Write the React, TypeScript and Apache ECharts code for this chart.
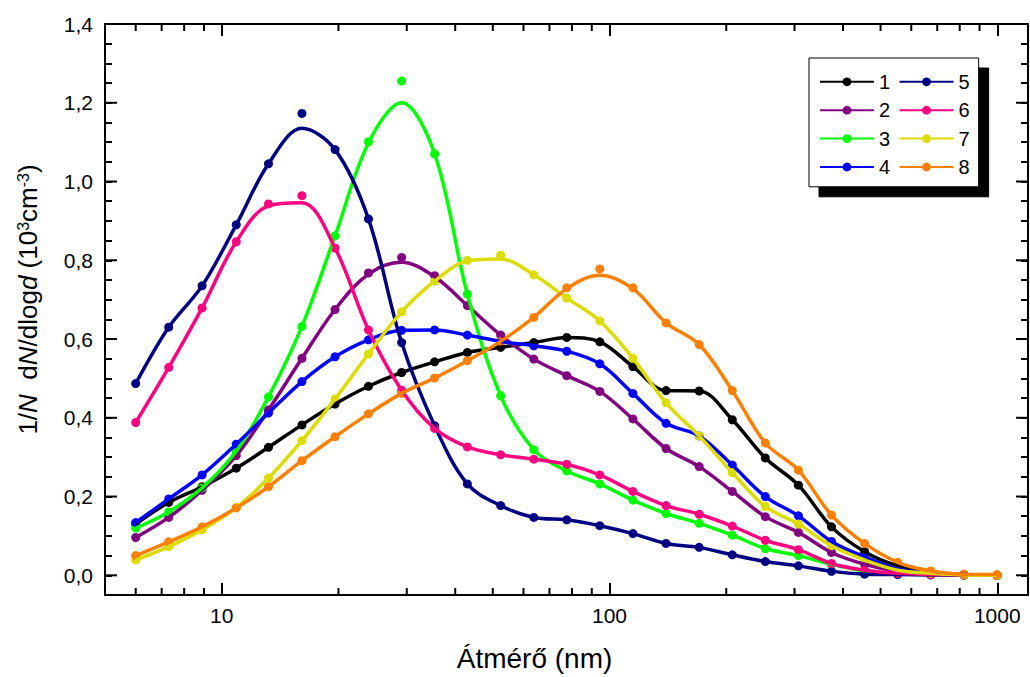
import React, { useEffect, useRef } from 'react';
import * as echarts from 'echarts';

// Particle diameters (nm) of the size channels
const diameters = [6.0, 7.3, 8.9, 10.9, 13.2, 16.1, 19.6, 23.9, 29.1, 35.4, 43.0, 52.4, 63.8, 77.6, 94.4, 114.9, 139.9, 170.3, 207.3, 252.2, 307.0, 373.6, 454.9, 553.5, 673.6, 820.1, 998];

const seriesNames = ['1', '2', '3', '4', '5', '6', '7', '8'];
const seriesColors = ['#000000', '#800080', '#00ff00', '#0000ff', '#000080', '#ff0080', '#dcdc00', '#ff8000'];

// measured points
const points1 = [0.130, 0.185, 0.225, 0.272, 0.325, 0.382, 0.435, 0.480, 0.515, 0.542, 0.566, 0.579, 0.591, 0.604, 0.593, 0.530, 0.469, 0.468, 0.395, 0.298, 0.229, 0.123, 0.060, 0.024, 0.007, 0.002, 0.000];
const points2 = [0.096, 0.147, 0.216, 0.304, 0.420, 0.551, 0.675, 0.768, 0.807, 0.761, 0.685, 0.610, 0.549, 0.507, 0.467, 0.397, 0.322, 0.276, 0.213, 0.149, 0.109, 0.058, 0.028, 0.010, 0.004, 0.001, 0.000];
const points3 = [0.120, 0.161, 0.222, 0.315, 0.453, 0.632, 0.862, 1.101, 1.255, 1.070, 0.714, 0.456, 0.319, 0.265, 0.232, 0.191, 0.157, 0.132, 0.102, 0.068, 0.050, 0.028, 0.011, 0.004, 0.002, 0.001, 0.000];
const points4 = [0.134, 0.194, 0.255, 0.333, 0.412, 0.492, 0.555, 0.598, 0.622, 0.623, 0.610, 0.594, 0.583, 0.569, 0.537, 0.462, 0.386, 0.354, 0.280, 0.200, 0.151, 0.086, 0.047, 0.016, 0.006, 0.002, 0.000];
const points5 = [0.487, 0.630, 0.735, 0.890, 1.045, 1.173, 1.081, 0.905, 0.591, 0.380, 0.232, 0.177, 0.147, 0.141, 0.126, 0.106, 0.081, 0.071, 0.052, 0.035, 0.024, 0.010, 0.003, 0.002, 0.001, 0.000, 0.000];
const points6 = [0.388, 0.528, 0.679, 0.847, 0.943, 0.964, 0.831, 0.623, 0.470, 0.373, 0.326, 0.306, 0.295, 0.282, 0.255, 0.213, 0.177, 0.155, 0.125, 0.089, 0.065, 0.030, 0.013, 0.005, 0.002, 0.001, 0.000];
const points7 = [0.039, 0.073, 0.116, 0.172, 0.247, 0.342, 0.448, 0.562, 0.669, 0.747, 0.800, 0.813, 0.763, 0.704, 0.646, 0.551, 0.438, 0.354, 0.261, 0.175, 0.130, 0.075, 0.039, 0.013, 0.005, 0.001, 0.000];
const points8 = [0.050, 0.085, 0.123, 0.171, 0.225, 0.291, 0.352, 0.410, 0.462, 0.501, 0.545, 0.594, 0.655, 0.730, 0.778, 0.730, 0.641, 0.586, 0.469, 0.336, 0.267, 0.153, 0.081, 0.033, 0.011, 0.003, 0.002];

// fitted curves
const curve1 = points1;
const curve2 = [0.096, 0.147, 0.216, 0.304, 0.420, 0.551, 0.675, 0.765, 0.795, 0.758, 0.685, 0.610, 0.549, 0.507, 0.467, 0.397, 0.322, 0.276, 0.213, 0.149, 0.109, 0.058, 0.028, 0.010, 0.004, 0.001, 0.000];
const curve3 = [0.120, 0.161, 0.222, 0.315, 0.453, 0.632, 0.862, 1.098, 1.200, 1.070, 0.714, 0.456, 0.319, 0.265, 0.232, 0.191, 0.157, 0.132, 0.102, 0.068, 0.050, 0.028, 0.011, 0.004, 0.002, 0.001, 0.000];
const curve4 = points4;
const curve5 = [0.487, 0.630, 0.735, 0.890, 1.045, 1.135, 1.081, 0.905, 0.591, 0.380, 0.232, 0.177, 0.147, 0.141, 0.126, 0.106, 0.081, 0.071, 0.052, 0.035, 0.024, 0.010, 0.003, 0.002, 0.001, 0.000, 0.000];
const curve6 = [0.388, 0.528, 0.679, 0.847, 0.938, 0.946, 0.831, 0.623, 0.470, 0.373, 0.326, 0.306, 0.295, 0.282, 0.255, 0.213, 0.177, 0.155, 0.125, 0.089, 0.065, 0.030, 0.013, 0.005, 0.002, 0.001, 0.000];
const curve7 = [0.039, 0.073, 0.116, 0.172, 0.247, 0.342, 0.448, 0.562, 0.669, 0.747, 0.798, 0.803, 0.763, 0.704, 0.646, 0.551, 0.438, 0.354, 0.261, 0.175, 0.130, 0.075, 0.039, 0.013, 0.005, 0.001, 0.000];
const curve8 = [0.050, 0.085, 0.123, 0.171, 0.225, 0.291, 0.352, 0.410, 0.462, 0.501, 0.545, 0.594, 0.655, 0.728, 0.762, 0.728, 0.641, 0.586, 0.469, 0.336, 0.267, 0.153, 0.081, 0.033, 0.011, 0.003, 0.002];

const allPoints = [points1, points2, points3, points4, points5, points6, points7, points8];
const allCurves = [curve1, curve2, curve3, curve4, curve5, curve6, curve7, curve8];

// ticks
const xMajorTicks = [10, 100, 1000];
const xMinorTicks = [6, 7, 8, 9, 20, 30, 40, 50, 60, 70, 80, 90, 200, 300, 400, 500, 600, 700, 800, 900];
const yMajorTicks = [0, 0.2, 0.4, 0.6, 0.8, 1.0, 1.2, 1.4];

const X_MIN = 5;
const X_MAX = 1200;
const Y_MIN = -0.05;
const Y_MAX = 1.4;
const Y_MINOR_STEP = 0.05;

const FONT = 'Arial, "Liberation Sans", sans-serif';

export default function App() {
  const ref = useRef<HTMLDivElement>(null);

  useEffect(() => {
    if (!ref.current) return;
    const chart = echarts.init(ref.current, undefined, { renderer: 'svg' });

    const axisLineStyle = { color: '#000', width: 2 };

    const isMajorY = (v: number) => v >= -1e-9 && Math.abs(v * 5 - Math.round(v * 5)) < 1e-6;
    const isMajorX = (v: number) => xMajorTicks.some((t) => Math.abs(t - v) < 1e-6 * t);

    const makeX = (position: 'top' | 'bottom', withLabel: boolean): any => ({
      type: 'log',
      logBase: 10,
      min: X_MIN,
      max: X_MAX,
      position,
      axisLine: { show: true, onZero: false, lineStyle: axisLineStyle },
      axisTick: { show: true, inside: true, length: 12, lineStyle: axisLineStyle },
      axisLabel: withLabel
        ? {
            show: true,
            formatter: (v: number) => (isMajorX(v) ? String(Math.round(v)) : ''),
            fontSize: 21,
            color: '#000',
            fontFamily: FONT,
            margin: 10,
          }
        : { show: false },
      splitLine: { show: false },
      minorTick: { show: false },
    });

    const makeY = (position: 'left' | 'right', withLabel: boolean): any => ({
      type: 'value',
      min: Y_MIN,
      max: Y_MAX,
      interval: Y_MINOR_STEP,
      position,
      axisLine: { show: true, onZero: false, lineStyle: axisLineStyle },
      axisTick: { show: true, inside: true, length: 7, lineStyle: axisLineStyle },
      axisLabel: withLabel
        ? {
            show: true,
            formatter: (v: number) => (isMajorY(v) ? v.toFixed(1).replace('.', ',') : ''),
            fontSize: 21,
            color: '#000',
            fontFamily: FONT,
            margin: 12,
          }
        : { show: false },
      splitLine: { show: false },
      minorTick: { show: false },
    });

    const xMain = makeX('bottom', true);
    xMain.name = 'Átmérő (nm)';
    xMain.nameLocation = 'middle';
    xMain.nameGap = 49;
    xMain.nameTextStyle = { fontSize: 28, color: '#000', fontFamily: FONT, padding: [0, 64, 0, 0] };

    const yMain = makeY('left', true);
    yMain.name = '1/{i|N}  d{i|N}/dlog{i|d} (10{s|3}cm{s|-3})';
    yMain.nameLocation = 'middle';
    yMain.nameRotate = 90;
    yMain.nameGap = 64;
    yMain.nameTextStyle = {
      fontSize: 26,
      color: '#000',
      fontFamily: FONT,
      padding: [0, 0, 0, 20],
      rich: {
        i: { fontStyle: 'italic', fontSize: 26, color: '#000', fontFamily: FONT },
        s: { fontSize: 16, color: '#000', fontFamily: FONT, verticalAlign: 'top' },
      },
    };

    // short black bars standing in for the minor x ticks and the long y ticks
    const tickSeries = (data: number[][], size: number[], offset: any[]): any => ({
      type: 'scatter',
      name: 'tick',
      data,
      symbol: 'rect',
      symbolSize: size,
      symbolOffset: offset,
      clip: false,
      silent: true,
      itemStyle: { color: '#000', opacity: 1 },
      emphasis: { disabled: true },
    });

    const series: any[] = [
      tickSeries(xMinorTicks.map((v) => [v, Y_MIN]), [2, 7], [0, '-50%']),
      tickSeries(xMinorTicks.map((v) => [v, Y_MAX]), [2, 7], [0, '50%']),
      tickSeries(yMajorTicks.map((v) => [X_MIN, v]), [12, 2], ['50%', 0]),
      tickSeries(yMajorTicks.map((v) => [X_MAX, v]), [12, 2], ['-50%', 0]),
    ];

    seriesNames.forEach((name, k) => {
      const color = seriesColors[k];
      series.push({
        type: 'line',
        name,
        data: diameters.map((d, i) => [d, allCurves[k][i]]),
        smooth: 0.35,
        symbol: 'circle',
        showSymbol: false,
        symbolSize: 9,
        lineStyle: { color, width: 3.5 },
        itemStyle: { color },
        emphasis: { disabled: true },
      });
      series.push({
        type: 'scatter',
        name: 'points ' + name,
        data: diameters.map((d, i) => [d, allPoints[k][i]]),
        symbol: 'circle',
        symbolSize: 9,
        itemStyle: { color, opacity: 1 },
        emphasis: { disabled: true },
      });
    });

    chart.setOption({
      animation: false,
      backgroundColor: '#fff',
      textStyle: { fontFamily: FONT },
      grid: { left: 105, right: 2, top: 24, bottom: 82, containLabel: false, outerBoundsMode: 'none' },
      xAxis: [xMain, makeX('top', false)],
      yAxis: [yMain, makeY('right', false)],
      legend: {
        data: seriesNames,
        orient: 'vertical',
        left: 809,
        top: 58,
        height: 115,
        itemWidth: 54,
        itemHeight: 11,
        itemGap: 8.4,
        padding: [13.8, 9, 9.8, 10],
        backgroundColor: '#fff',
        borderColor: '#000',
        borderWidth: 1,
        borderRadius: 0,
        shadowColor: '#000',
        shadowBlur: 0,
        shadowOffsetX: 10,
        shadowOffsetY: 10,
        selectedMode: false,
        textStyle: { fontSize: 20, color: '#000', fontFamily: FONT, padding: [0, 4, 0, 0] },
      },
      series,
    });

    return () => chart.dispose();
  }, []);

  return (
    <div
      ref={ref}
      style={{ position: 'absolute', left: 0, top: 0, width: 1030, height: 677, background: '#fff' }}
    />
  );
}
